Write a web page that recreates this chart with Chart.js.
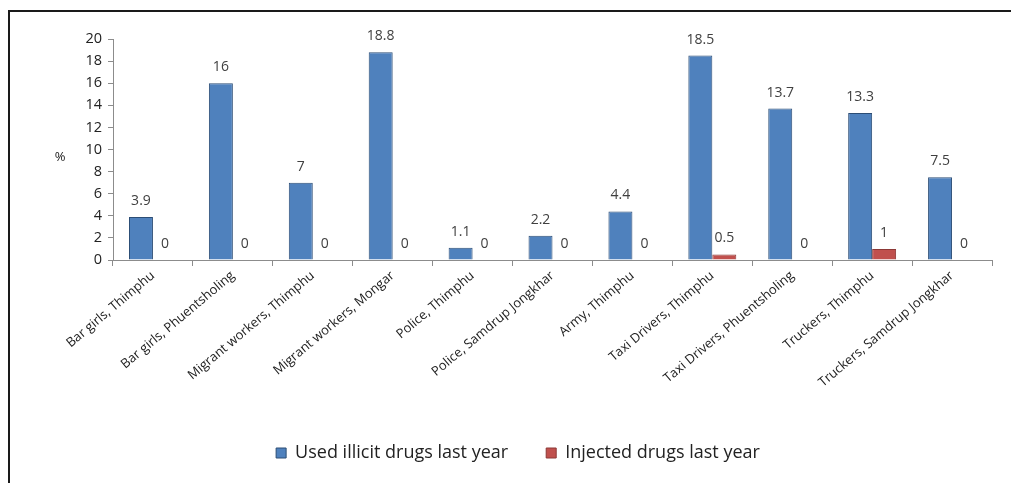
<!DOCTYPE html>
<html>
<head>
<meta charset="utf-8">
<script src="https://cdn.jsdelivr.net/npm/chart.js@4"></script>
<style>
  html, body { margin: 0; padding: 0; background: #fff; overflow: hidden; }
  #wrap { position: relative; width: 1011px; height: 483px; }
  #frame { position: absolute; left: 8px; top: 10px; right: -10px; bottom: -10px;
           border-left: 2px solid #1a1a1a; border-top: 2px solid #1a1a1a; }
  canvas { position: absolute; left: 0; top: 0; }
</style>
</head>
<body>
<div id="wrap">
  <div id="frame"></div>
  <canvas id="chart" width="1011" height="483"></canvas>
</div>
<script>
// Survey groups and the share (%) reporting drug use
const categories = [
  'Bar girls, Thimphu',
  'Bar girls, Phuentsholing',
  'Migrant workers, Thimphu',
  'Migrant workers, Mongar',
  'Police, Thimphu',
  'Police, Samdrup Jongkhar',
  'Army, Thimphu',
  'Taxi Drivers, Thimphu',
  'Taxi Drivers, Phuentsholing',
  'Truckers, Thimphu',
  'Truckers, Samdrup Jongkhar'
];
const usedIllicit = [3.9, 16, 7, 18.8, 1.1, 2.2, 4.4, 18.5, 13.7, 13.3, 7.5];
const injected    = [0, 0, 0, 0, 0, 0, 0, 0.5, 0, 1, 0];
const seriesNames = ['Used illicit drugs last year', 'Injected drugs last year'];
const yTicks = [0, 2, 4, 6, 8, 10, 12, 14, 16, 18, 20];

const FONT = '"Open Sans", Lato, sans-serif';
const AXIS_GREY = '#8c8c8c';
const TEXT = '#404040';

// Values printed above each bar
const valueLabels = {
  id: 'valueLabels',
  afterDatasetsDraw(chart) {
    const ctx = chart.ctx;
    ctx.save();
    ctx.font = '14px ' + FONT;
    ctx.fillStyle = TEXT;
    ctx.textAlign = 'center';
    ctx.textBaseline = 'middle';
    chart.data.datasets.forEach((ds, di) => {
      const meta = chart.getDatasetMeta(di);
      meta.data.forEach((bar, i) => {
        ctx.fillText(String(ds.data[i]), bar.x, bar.y - 16);
      });
    });
    ctx.restore();
  }
};

// Horizontal "%" unit beside the value axis
const unitLabel = {
  id: 'unitLabel',
  afterDraw(chart) {
    const ctx = chart.ctx;
    const y = chart.scales.y;
    ctx.save();
    ctx.font = '13px ' + FONT;
    ctx.fillStyle = '#222';
    ctx.textAlign = 'center';
    ctx.textBaseline = 'middle';
    ctx.fillText('%', 60, (y.top + y.bottom) / 2 + 8);
    ctx.restore();
  }
};

// The legend is centred a little right of the canvas middle
const legendPlacement = {
  id: 'legendPlacement',
  afterLayout(chart) {
    const lg = chart.legend;
    if (!lg) return;
    const dx = 22;
    lg.left += dx; lg.right += dx;
  }
};

new Chart(document.getElementById('chart'), {
  type: 'bar',
  data: {
    labels: categories,
    datasets: [
      { label: seriesNames[0], data: usedIllicit,
        backgroundColor: '#4f81bd', borderColor: '#2c4d75', borderWidth: 1 },
      { label: seriesNames[1], data: injected,
        backgroundColor: '#c0504d', borderColor: '#8c3836', borderWidth: 1 }
    ]
  },
  options: {
    responsive: false,
    animation: false,
    events: [],
    layout: { padding: { left: 0, right: 19, top: 39, bottom: 11 } },
    datasets: { bar: { categoryPercentage: 0.6, barPercentage: 1.0 } },
    plugins: {
      tooltip: { enabled: false },
      legend: {
        position: 'bottom',
        labels: {
          boxWidth: 10, boxHeight: 10, padding: 38,
          color: '#222',
          font: { family: FONT, size: 18 }
        }
      }
    },
    scales: {
      x: {
        offset: true,
        grid: { display: true, drawOnChartArea: false, offset: true,
                color: AXIS_GREY, tickLength: 6 },
        border: { color: AXIS_GREY },
        ticks: {
          autoSkip: false, maxRotation: 40, minRotation: 40,
          color: '#222', font: { family: FONT, size: 13 }, padding: 2
        },
        afterFit(scale) { scale.height = 146; }
      },
      y: {
        min: 0, max: 20,
        afterBuildTicks(scale) { scale.ticks = yTicks.map(v => ({ value: v })); },
        grid: { display: true, drawOnChartArea: false, color: AXIS_GREY, tickLength: 5 },
        border: { color: AXIS_GREY },
        ticks: { color: '#222', font: { family: FONT, size: 14.5 }, padding: 6 },
        afterFit(scale) { scale.width = 113; }
      }
    }
  },
  plugins: [valueLabels, unitLabel, legendPlacement]
});
</script>
</body>
</html>
